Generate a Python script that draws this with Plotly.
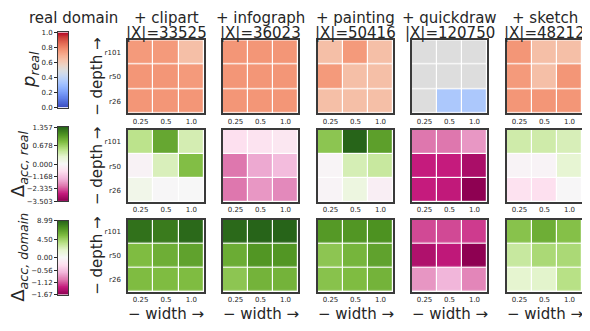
import numpy as np
import plotly.graph_objects as go

# data
domains = ["clipart", "infograph", "painting", "quickdraw", "sketch"]
sizes = [33525, 36023, 50416, 120750, 48212]
widths = ["0.25", "0.5", "1.0"]
depths = ["r101", "r50", "r26"]  # rows top -> bottom

# p_real per added domain (rows r101, r50, r26 ; cols width 0.25, 0.5, 1.0)
p_real = [
    [[0.75, 0.75, 0.64], [0.76, 0.76, 0.75], [0.76, 0.76, 0.76]],
    [[0.76, 0.76, 0.76], [0.76, 0.76, 0.76], [0.76, 0.76, 0.76]],
    [[0.64, 0.75, 0.64], [0.75, 0.64, 0.64], [0.64, 0.64, 0.64]],
    [[0.50, 0.50, 0.50], [0.50, 0.50, 0.50], [0.50, 0.34, 0.34]],
    [[0.76, 0.64, 0.64], [0.75, 0.64, 0.76], [0.76, 0.76, 0.76]],
]
d_acc_real = [
    [[0.52, 0.95, 0.38], [-0.15, 0.35, 0.80], [0.10, -0.02, 0.00]],
    [[-0.70, -0.60, -0.50], [-2.10, -1.55, -1.30], [-2.10, -1.75, -1.90]],
    [[0.75, 1.357, 1.00], [-0.10, 0.37, 0.45], [-0.12, 0.16, -0.28]],
    [[-2.10, -2.10, -1.75], [-2.80, -2.80, -3.15], [-2.80, -2.85, -3.503]],
    [[0.41, 0.41, 0.36], [-0.12, -0.12, 0.25], [-0.65, -0.70, -0.04]],
]
d_acc_domain = [
    [[8.50, 8.10, 8.80], [5.40, 6.00, 6.50], [5.40, 5.40, 5.40]],
    [[8.80, 8.99, 8.99], [6.10, 7.00, 7.00], [4.95, 5.80, 5.80]],
    [[6.90, 7.00, 7.20], [4.95, 5.70, 6.50], [5.10, 5.40, 5.80]],
    [[-1.17, -1.17, -1.22], [-1.47, -1.37, -1.67], [-0.84, -0.67, -0.92]],
    [[5.10, 6.00, 5.20], [3.00, 4.00, 4.00], [1.80, 1.90, 3.60]],
]

# colorbar ticks
ticks_p = [0.0, 0.2, 0.4, 0.6, 0.8, 1.0]
ticks_real = [1.357, 0.678, 0.000, -1.168, -2.335, -3.503]
ticks_domain = [8.99, 4.50, 0.00, -0.56, -1.12, -1.67]
tick_text_p = ["0.0", "0.2", "0.4", "0.6", "0.8", "1.0"]
tick_text_real = ["1.357", "0.678", "0.000", "\u22121.168", "\u22122.335", "\u22123.503"]
tick_text_domain = ["8.99", "4.50", "0.00", "\u22120.56", "\u22121.12", "\u22121.67"]

coolwarm = [
    [0.0, "rgb(59,76,192)"], [0.0625, "rgb(77,104,215)"], [0.125, "rgb(98,130,234)"],
    [0.1875, "rgb(119,154,247)"], [0.25, "rgb(141,176,254)"], [0.3125, "rgb(163,194,255)"],
    [0.375, "rgb(184,208,249)"], [0.4375, "rgb(204,217,238)"], [0.5, "rgb(221,221,221)"],
    [0.5625, "rgb(236,211,197)"], [0.625, "rgb(245,196,173)"], [0.6875, "rgb(247,177,148)"],
    [0.75, "rgb(244,154,123)"], [0.8125, "rgb(236,127,99)"], [0.875, "rgb(222,96,77)"],
    [0.9375, "rgb(203,62,56)"], [1.0, "rgb(180,4,38)"],
]

rows = [
    dict(grids=p_real, scale=coolwarm, vmin=0.0, vmax=1.0, ticks=ticks_p, text=tick_text_p, centered=False,
         label="<i>p</i><sub><i>real</i></sub>", lx=30),
    dict(grids=d_acc_real, scale="PiYG", vmin=-3.503, vmax=1.357, ticks=ticks_real, text=tick_text_real, centered=True,
         label="\u0394<sub><i>acc, real</i></sub>", lx=19),
    dict(grids=d_acc_domain, scale="PiYG", vmin=-1.67, vmax=8.99, ticks=ticks_domain, text=tick_text_domain, centered=True,
         label="\u0394<sub><i>acc, domain</i></sub>", lx=19),
]


def to_norm(v, row):
    # two-slope norm around 0 like matplotlib TwoSlopeNorm
    v = np.asarray(v, dtype=float)
    if not row["centered"]:
        return v
    return np.where(v >= 0, v / row["vmax"], v / -row["vmin"])


# page body has an 8px margin, so the figure is drawn 8px in from the corner
OFF = 8
W, H = 590 - OFF, 331 - OFF
col_px = [(128, 204), (223, 298), (318, 393), (412, 487), (507, 582)]
row_px = [(37, 112), (129, 203), (221, 295)]
cbar_px = [(29, 106), (126, 202), (222, 298)]
cbar_x = (58, 68)
ink = "#262626"
frame = "#3a3a3a"


def px(x):
    return (x - OFF) / W


def py(y):
    return 1 - (y - OFF) / H


def xd(a, b):
    return [px(a), px(b)]


def yd(a, b):
    return [py(b), py(a)]


def label(text, x, y, size=15, angle=0):
    return dict(text=text, x=px(x), y=py(y), xref="paper", yref="paper", showarrow=False,
                textangle=angle, font=dict(size=size, color=ink), xanchor="center", yanchor="middle",
                borderpad=0)


fig = go.Figure()
layout = {}
annotations = []

for r, row in enumerate(rows):
    lo, hi = (-1.0, 1.0) if row["centered"] else (row["vmin"], row["vmax"])
    for c in range(5):
        k = r * 5 + c + 1
        sx = "" if k == 1 else str(k)
        z = np.array(row["grids"][c])
        fig.add_trace(go.Heatmap(
            x=widths, y=depths, z=to_norm(z, row), customdata=z,
            colorscale=row["scale"], zmin=lo, zmax=hi, showscale=False,
            xgap=1.2, ygap=1.2, xaxis="x" + sx, yaxis="y" + sx,
            hovertemplate="width %{x}<br>depth %{y}<br>%{customdata}<extra></extra>",
        ))
        layout["xaxis" + sx] = dict(
            domain=xd(*col_px[c]), anchor="y" + sx, type="category",
            showgrid=False, zeroline=False, ticks="", tickfont=dict(size=7, color=ink),
            showline=True, mirror=True, linecolor=frame, linewidth=1.5, fixedrange=True,
        )
        layout["yaxis" + sx] = dict(
            domain=yd(*row_px[r]), anchor="x" + sx, type="category",
            categoryorder="array", categoryarray=depths[::-1],
            showgrid=False, zeroline=False, ticks="", showticklabels=(c == 0),
            tickfont=dict(size=7, color=ink), ticklabelstandoff=4,
            showline=True, mirror=True, linecolor=frame, linewidth=1.5, fixedrange=True,
        )

    # colorbar drawn as its own little axis so labels sit on the left
    k = 16 + r
    sx = str(k)
    grad = np.linspace(lo, hi, 256)
    fig.add_trace(go.Heatmap(
        x=[0], y=grad, z=grad[:, None], colorscale=row["scale"], zmin=lo, zmax=hi,
        showscale=False, xaxis="x" + sx, yaxis="y" + sx, hoverinfo="skip",
    ))
    layout["xaxis" + sx] = dict(
        domain=xd(*cbar_x), anchor="y" + sx, showticklabels=False, ticks="",
        showgrid=False, zeroline=False, range=[-0.5, 0.5],
        showline=True, mirror=True, linecolor=frame, linewidth=1, fixedrange=True,
    )
    layout["yaxis" + sx] = dict(
        domain=yd(*cbar_px[r]), anchor="x" + sx, range=[lo, hi], side="left",
        tickvals=list(to_norm(row["ticks"], row)), ticktext=row["text"],
        ticks="outside", ticklen=3, tickwidth=1, tickcolor=ink,
        tickfont=dict(size=7, color=ink), showgrid=False, zeroline=False,
        showline=True, mirror=True, linecolor=frame, linewidth=1, fixedrange=True,
    )

    cy = (cbar_px[r][0] + cbar_px[r][1]) / 2
    annotations.append(label(row["label"], row["lx"], cy, size=18, angle=-90))
    ry = (row_px[r][0] + row_px[r][1]) / 2
    annotations.append(label("\u2212 depth \u2192", 97, ry, angle=-90))

for c, (name, n) in enumerate(zip(domains, sizes)):
    cx = (col_px[c][0] + col_px[c][1]) / 2
    annotations.append(label("+ " + name, cx, 14))
    annotations.append(label("|X|=%d" % n, cx, 30))
    annotations.append(label("\u2212 width \u2192", cx, 318))

annotations.append(label("real domain", 73, 14))

fig.update_layout(
    width=W, height=H, margin=dict(l=0, r=0, t=0, b=0),
    paper_bgcolor="white", plot_bgcolor="white",
    font=dict(family="DejaVu Sans", color=ink),
    annotations=annotations, showlegend=False, **layout,
)

fig.write_html("out.html")
